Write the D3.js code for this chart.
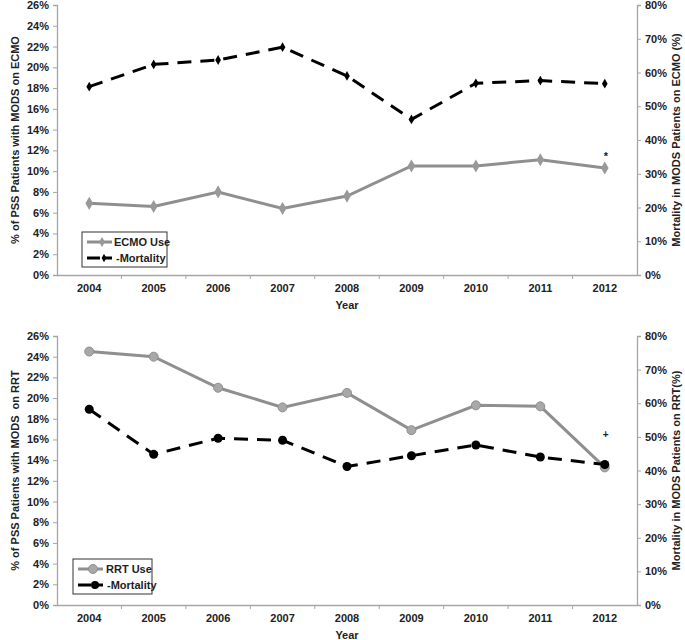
<!DOCTYPE html>
<html><head><meta charset="utf-8">
<script src="https://cdn.jsdelivr.net/npm/d3@7"></script>
<style>body{margin:0;background:#fff}svg text{font-family:"Liberation Sans",Arial,sans-serif;font-weight:bold;fill:#222}</style>
</head><body><svg id="c" width="685" height="640"></svg>
<script>
const years = ["2004","2005","2006","2007","2008","2009","2010","2011","2012"];
const ecmoUse = [6.9, 6.6, 8.0, 6.4, 7.6, 10.5, 10.5, 11.1, 10.3];
const ecmoMortality = [55.8, 62.4, 63.7, 67.5, 59.0, 46.1, 56.8, 57.6, 56.7];
const rrtUse = [24.5, 24.0, 21.0, 19.1, 20.5, 16.9, 19.3, 19.2, 13.3];
const rrtMortality = [58.2, 44.8, 49.6, 49.0, 41.2, 44.4, 47.6, 44.0, 41.8];
const leftTicks = [0,2,4,6,8,10,12,14,16,18,20,22,24,26];
const rightTicks = [0,10,20,30,40,50,60,70,80];

const svg = d3.select("#c");
const gray = "#8f8f8f", axisGray = "#a6a6a6";

function panel(cfg){
  const top = cfg.top, bottom = cfg.bottom, L = 57, R = 637;
  const x = d3.scaleBand().domain(years).range([L, R]);
  const yl = d3.scaleLinear().domain([0,26]).range([bottom, top]);
  const yr = d3.scaleLinear().domain([0,80]).range([bottom, top]);
  const g = svg.append("g");
  // left axis
  const la = g.append("g").attr("transform",`translate(${L},0)`).call(d3.axisLeft(yl).tickValues(leftTicks).tickSize(4).tickFormat(d=>d+"%"));
  const ra = g.append("g").attr("transform",`translate(${R},0)`).call(d3.axisRight(yr).tickValues(rightTicks).tickSize(4).tickFormat(d=>d+"%"));
  // x axis
  const xa = g.append("g").attr("transform",`translate(0,${bottom})`).call(d3.axisBottom(x).tickSize(0).tickPadding(9));
  [la,ra,xa].forEach(a=>{a.select(".domain").attr("stroke",axisGray).attr("stroke-width",1.3);a.selectAll(".tick line").attr("stroke",axisGray);a.selectAll("text").attr("font-size",11).attr("font-weight","bold").attr("fill","#222");});
  la.selectAll("text").attr("dx",-1); ra.selectAll("text").attr("dx",1);
  // x tick marks at band edges
  g.selectAll(".xt").data(years.slice(1)).enter().append("line")
    .attr("x1",d=>x(d)).attr("x2",d=>x(d)).attr("y1",bottom).attr("y2",bottom+4).attr("stroke",axisGray);
  const cx = d => x(d)+x.bandwidth()/2;
  g.append("text").attr("x",347).attr("y",bottom+34).attr("text-anchor","middle").attr("font-size",11).text("Year");
  g.append("text").attr("transform",`translate(19,${(top+bottom)/2}) rotate(-90)`).attr("text-anchor","middle").attr("font-size",11).style("white-space","pre").text(cfg.leftTitle);
  g.append("text").attr("transform",`translate(680,${(top+bottom)/2}) rotate(-90)`).attr("text-anchor","middle").attr("font-size",11).style("white-space","pre").text(cfg.rightTitle);

  // use line
  const lineL = d3.line().x((d,i)=>cx(years[i])).y(d=>yl(d));
  const lineR = d3.line().x((d,i)=>cx(years[i])).y(d=>yr(d));
  g.append("path").datum(cfg.use).attr("d",lineL).attr("fill","none").attr("stroke",gray).attr("stroke-width",3);
  g.append("path").datum(cfg.mort).attr("d",lineR).attr("fill","none").attr("stroke","#000").attr("stroke-width",3).attr("stroke-dasharray","14,9");
  if(cfg.circles){
    g.selectAll(".um").data(cfg.use).enter().append("circle").attr("cx",(d,i)=>cx(years[i])).attr("cy",d=>yl(d)).attr("r",4.5).attr("fill","#a8a8a8").attr("stroke",gray).attr("stroke-width",1);
    g.selectAll(".mm").data(cfg.mort).enter().append("circle").attr("cx",(d,i)=>cx(years[i])).attr("cy",d=>yr(d)).attr("r",4.5).attr("fill","#000");
  } else {
    const diamond = d3.symbol().type(d3.symbolDiamond).size(50);
    g.selectAll(".um").data(cfg.use).enter().append("path").attr("d",diamond).attr("transform",(d,i)=>`translate(${cx(years[i])},${yl(d)})`).attr("fill","#999");
    const small = d3.symbol().type(d3.symbolDiamond).size(28);
    g.selectAll(".mm").data(cfg.mort).enter().append("path").attr("d",small).attr("transform",(d,i)=>`translate(${cx(years[i])},${yr(d)})`).attr("fill","#000");
  }
  // annotation
  g.append("text").attr("x",cx("2012")+1).attr("y",cfg.noteY).attr("text-anchor","middle").attr("font-size",cfg.noteSize).attr("font-weight","normal").text(cfg.note);

  // legend
  const lg = g.append("g").attr("transform",`translate(${cfg.legX},${cfg.legY})`);
  lg.append("rect").attr("width",cfg.legW).attr("height",35).attr("fill","#fff").attr("stroke","#333").attr("stroke-width",1);
  lg.append("line").attr("x1",5).attr("x2",30).attr("y1",10).attr("y2",10).attr("stroke",gray).attr("stroke-width",3);
  lg.append("line").attr("x1",5).attr("x2",30).attr("y1",26).attr("y2",26).attr("stroke","#000").attr("stroke-width",3).attr("stroke-dasharray","13,5");
  if(cfg.circles){
    lg.append("circle").attr("cx",20).attr("cy",10).attr("r",4.5).attr("fill","#a8a8a8").attr("stroke",gray);
    lg.append("circle").attr("cx",22).attr("cy",26).attr("r",4).attr("fill","#000");
  } else {
    lg.append("path").attr("d",d3.symbol().type(d3.symbolDiamond).size(30)).attr("transform","translate(20,10)").attr("fill","#999");
    lg.append("path").attr("d",d3.symbol().type(d3.symbolDiamond).size(20)).attr("transform","translate(22,26)").attr("fill","#000");
  }
  lg.append("text").attr("x",cfg.circles?33:32).attr("y",14).attr("font-size",11).text(cfg.useLabel);
  lg.append("text").attr("x",34).attr("y",30).attr("font-size",11).text("-Mortality");
}

panel({top:5,bottom:275,use:ecmoUse,mort:ecmoMortality,circles:false,
  leftTitle:"% of PSS Patients with MODS on ECMO",rightTitle:"Mortality in MODS Patients on ECMO (%)",
  note:"*",noteY:160,noteSize:11,legX:82,legY:232,legW:85,useLabel:"ECMO Use"});
panel({top:336,bottom:605,use:rrtUse,mort:rrtMortality,circles:true,
  leftTitle:"% of PSS Patients with MODS  on RRT",rightTitle:"Mortality in MODS Patients on RRT(%)",
  note:"+",noteY:438,noteSize:10,legX:73,legY:559,legW:79,useLabel:"RRT Use"});
</script></body></html>
